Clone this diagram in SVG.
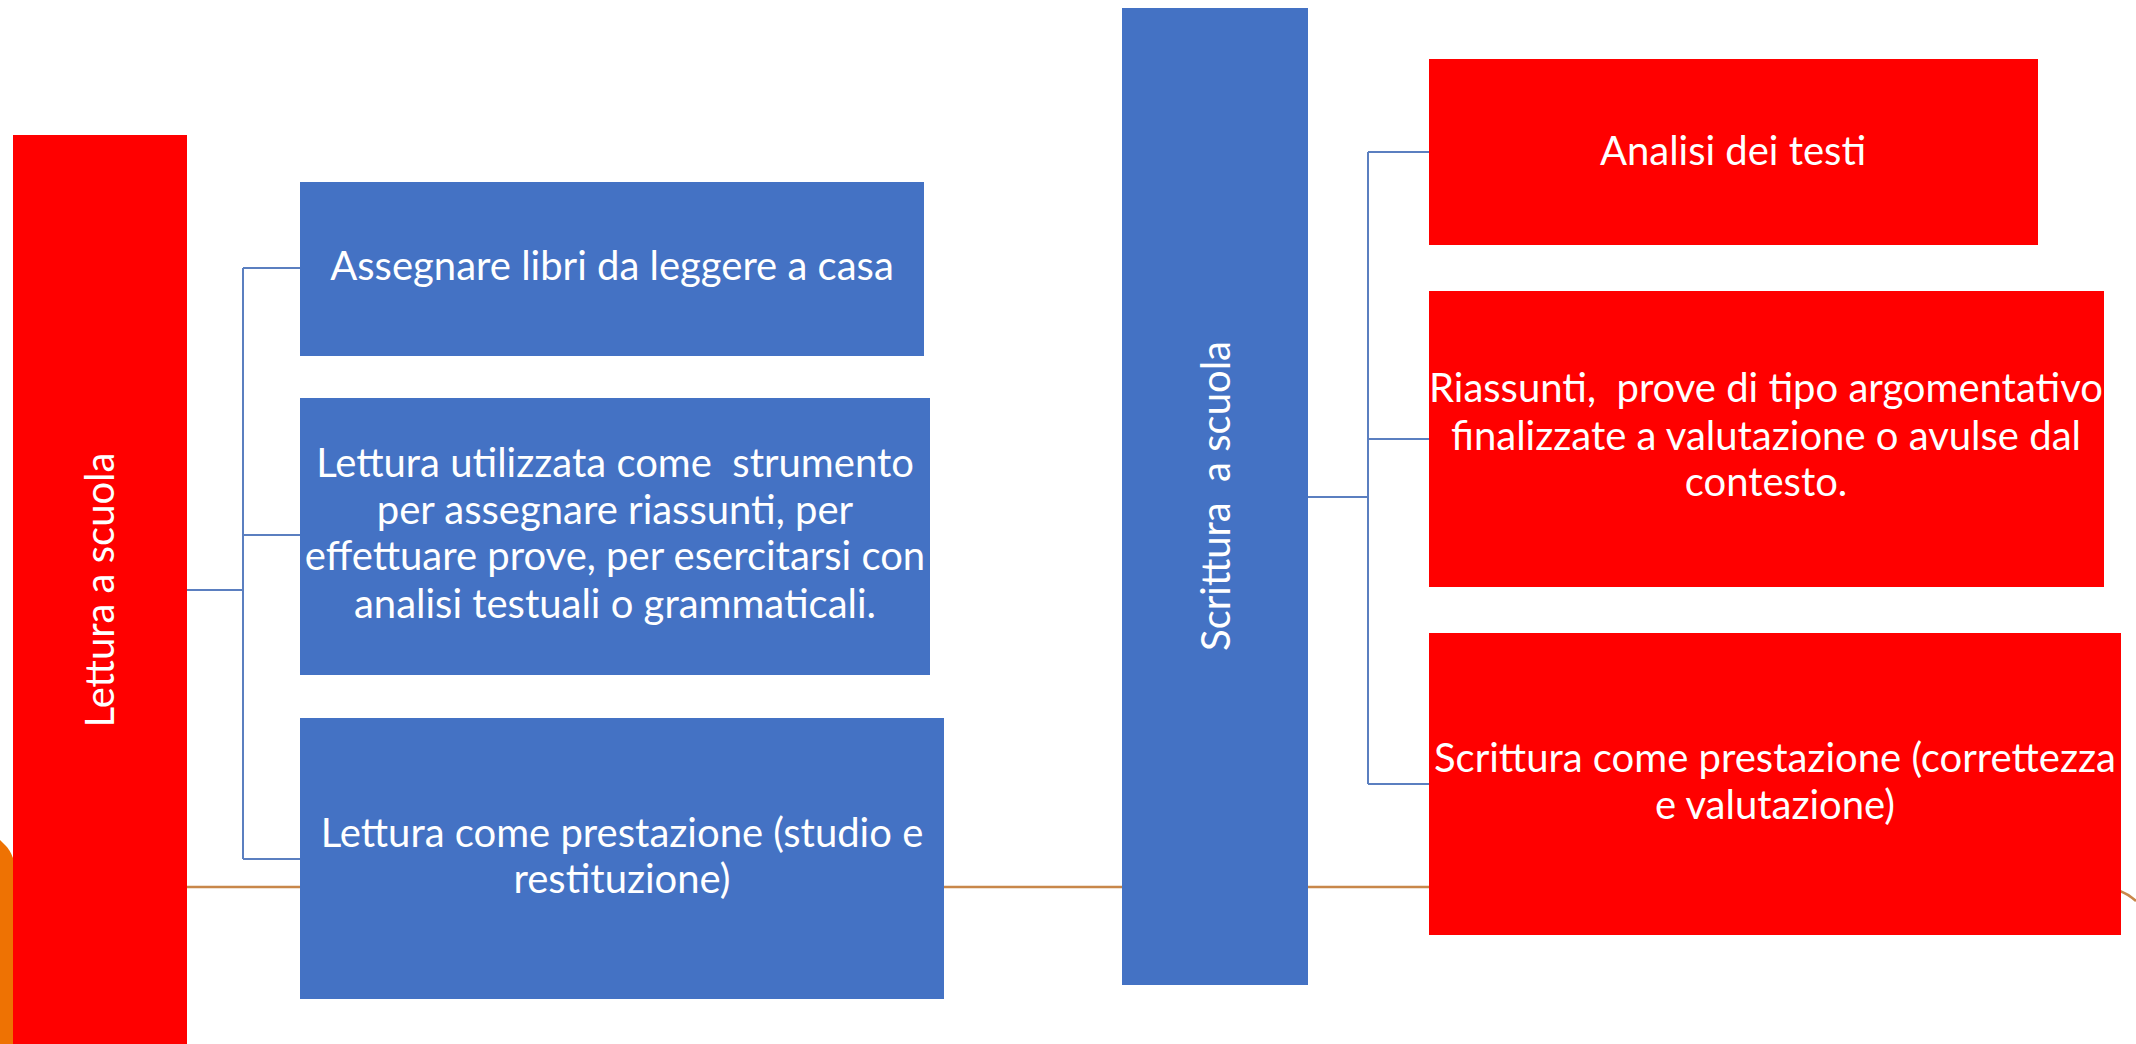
<svg xmlns="http://www.w3.org/2000/svg" width="2136" height="1044" viewBox="0 0 2136 1044">
<style>
.red{fill:#FF0000}
.blue{fill:#4472C4}
.t{font-family:Lato,"Open Sans","DejaVu Sans",sans-serif;font-size:40px;fill:#FFFFFF;text-anchor:middle;white-space:pre}
.conn{fill:none;stroke:#5B7FC0;stroke-width:2}
.orange{fill:none;stroke:#C8874A;stroke-width:2.5}
</style>
<rect width="2136" height="1044" fill="#FFFFFF"/>
<g id="background">
<path d="M0,840 L6,846 Q10,850 13,858 L13,1044 L0,1044 Z" fill="#EE7203"/>
<line class="orange" x1="186" y1="887" x2="2120" y2="887"/>
<path class="orange" d="M2120,891 Q2128,894 2136,901"/>
</g>
<g id="connectors">
<path class="conn" d="M187,590 H243 M243,268 V859 M243,268 H300 M243,535 H300 M243,859 H300"/>
<path class="conn" d="M1308,497 H1368 M1368,152 V784 M1368,152 H1429 M1368,439 H1429 M1368,784 H1429"/>
</g>
<g id="lettura">
<rect class="red" x="13" y="135" width="174" height="909"/>
<text class="t" transform="translate(114,590) rotate(-90)">Lettura a scuola</text>
</g>
<g id="assegnare">
<rect class="blue" x="300" y="182" width="624" height="174"/>
<text class="t" x="612" y="280">Assegnare libri da leggere a casa</text>
</g>
<g id="strumento">
<rect class="blue" x="300" y="398" width="630" height="277"/>
<text class="t" x="615" y="477">Lettura utilizzata come  strumento</text>
<text class="t" x="615" y="524">per assegnare riassunti, per</text>
<text class="t" x="615" y="570">effettuare prove, per esercitarsi con</text>
<text class="t" x="615" y="618">analisi testuali o grammaticali.</text>
</g>
<g id="prestazione-lettura">
<rect class="blue" x="300" y="718" width="644" height="281"/>
<text class="t" x="622" y="847">Lettura come prestazione (studio e</text>
<text class="t" x="622" y="893">restituzione)</text>
</g>
<g id="scrittura">
<rect class="blue" x="1122" y="8" width="186" height="977"/>
<text class="t" transform="translate(1230,496) rotate(-90)">Scrittura  a scuola</text>
</g>
<g id="analisi">
<rect class="red" x="1429" y="59" width="609" height="186"/>
<text class="t" x="1733" y="165">Analisi dei testi</text>
</g>
<g id="riassunti">
<rect class="red" x="1429" y="291" width="675" height="296"/>
<text class="t" x="1766" y="402">Riassunti,  prove di tipo argomentativo</text>
<text class="t" x="1766" y="450">finalizzate a valutazione o avulse dal</text>
<text class="t" x="1766" y="496">contesto.</text>
</g>
<g id="prestazione-scrittura">
<rect class="red" x="1429" y="633" width="692" height="302"/>
<text class="t" x="1775" y="772">Scrittura come prestazione (correttezza</text>
<text class="t" x="1775" y="819">e valutazione)</text>
</g>
</svg>
